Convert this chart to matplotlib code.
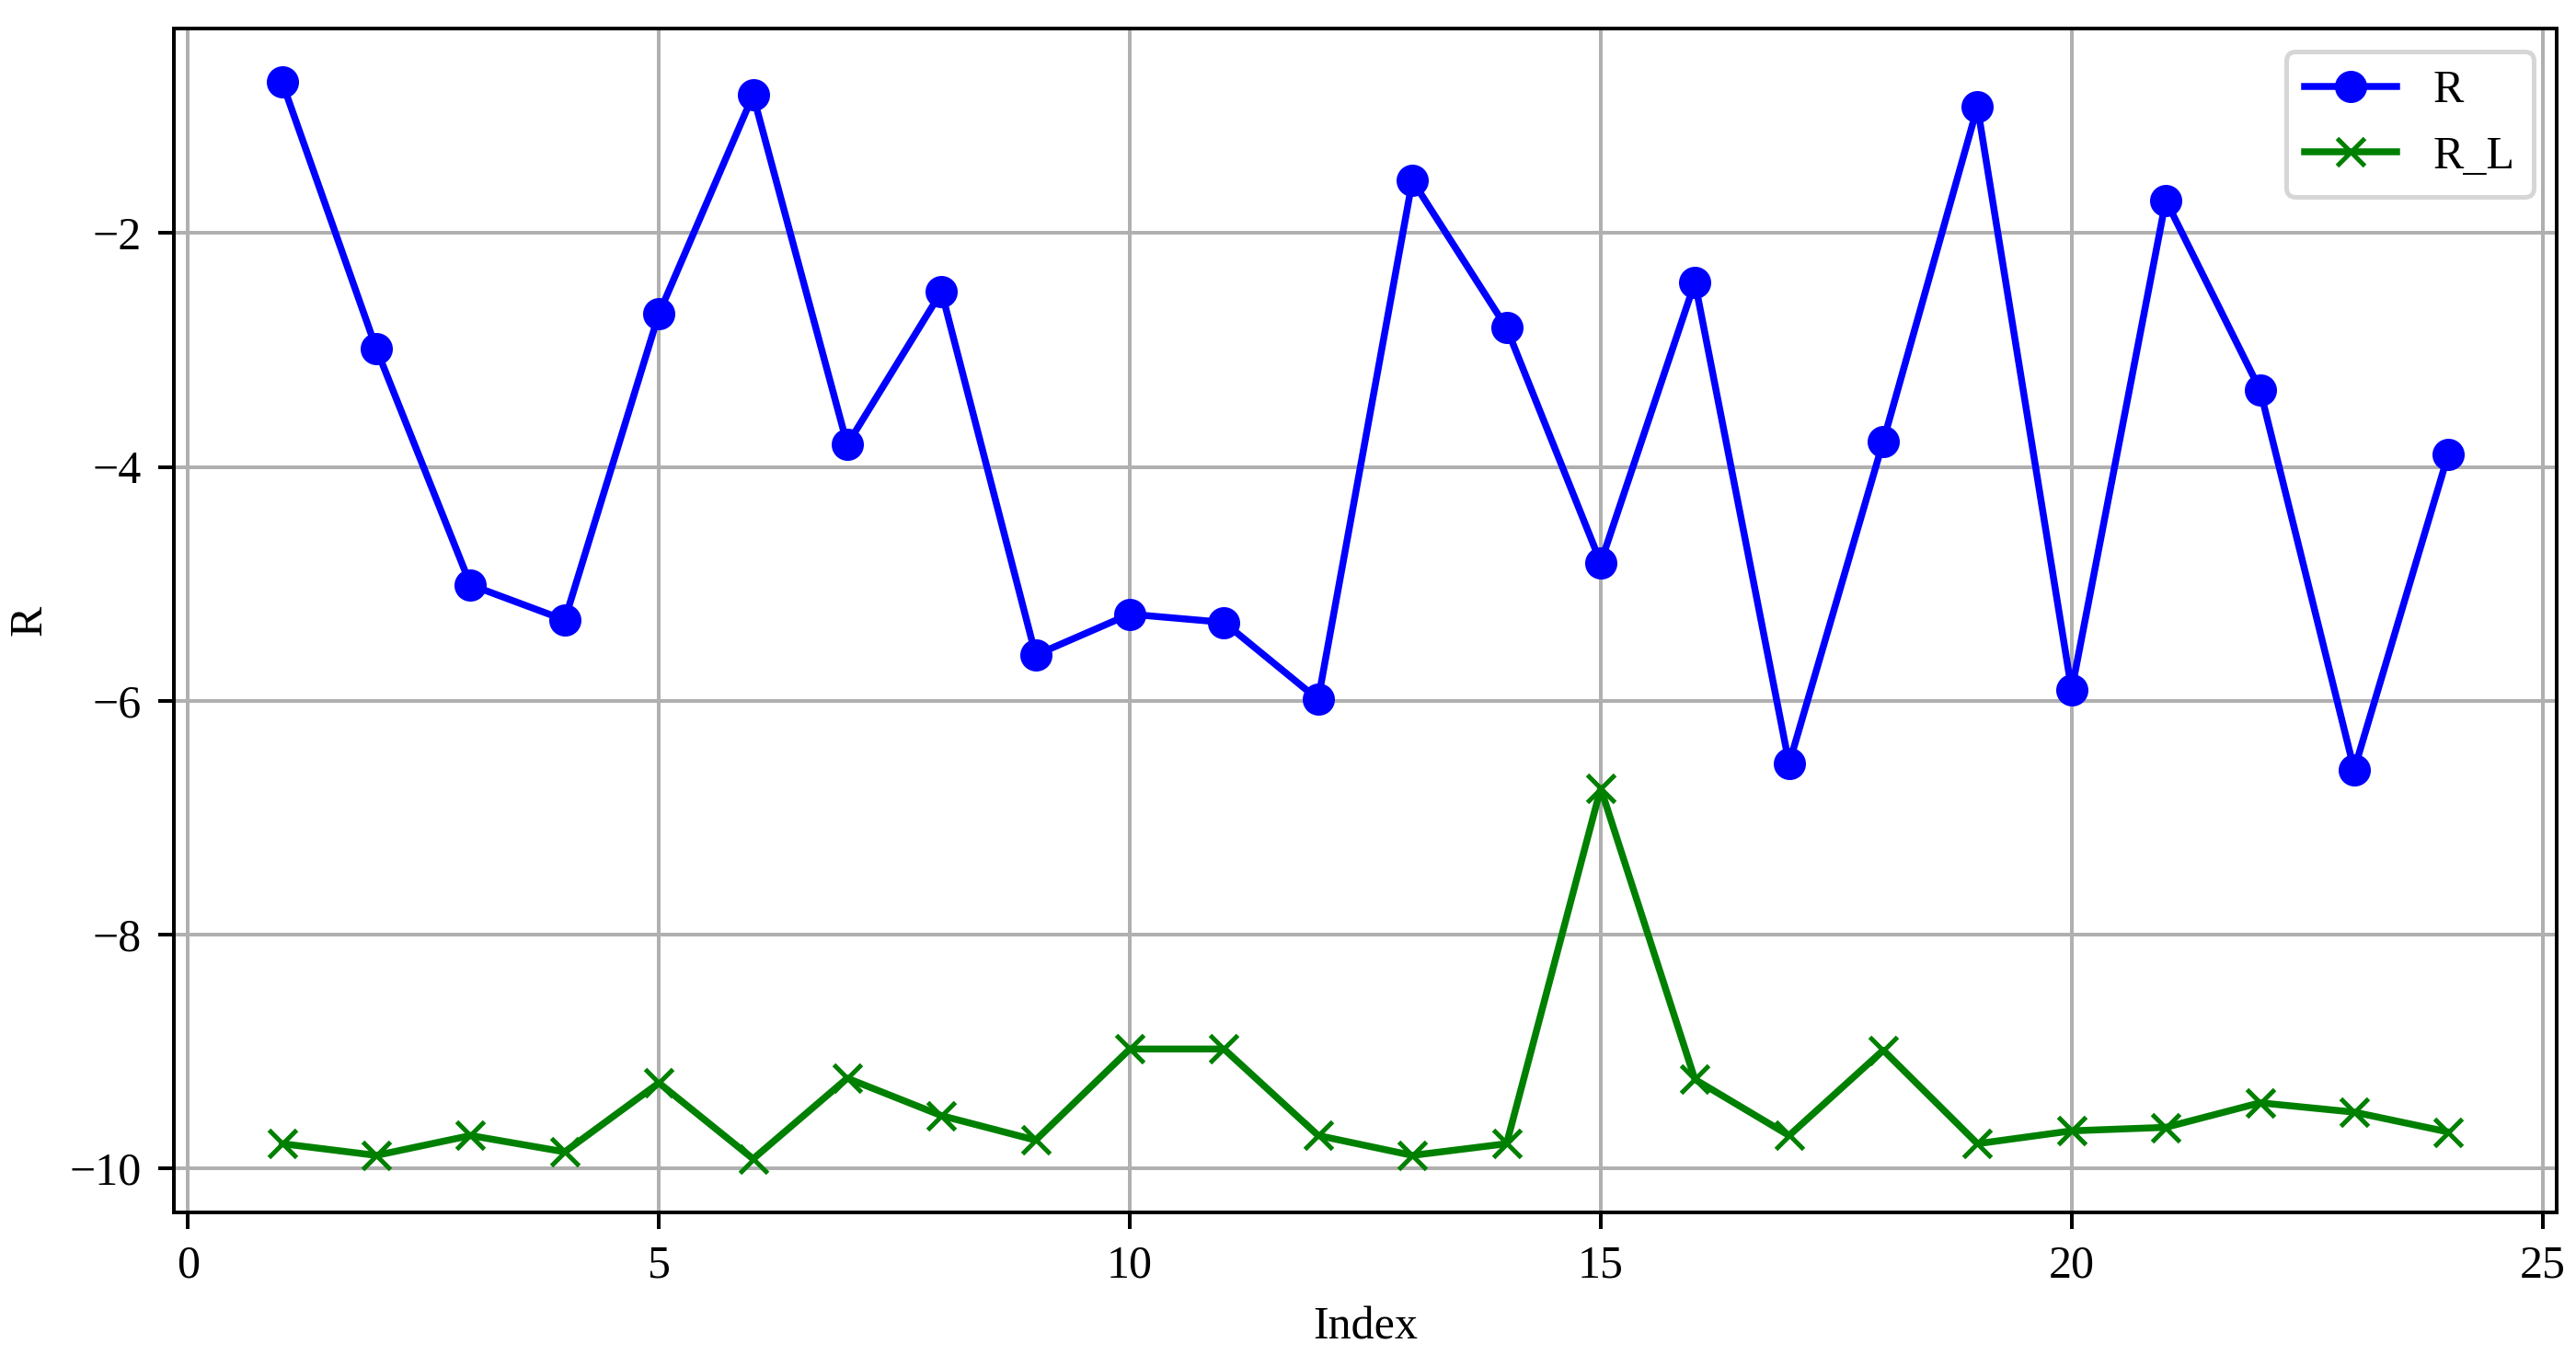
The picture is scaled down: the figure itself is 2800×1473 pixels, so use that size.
"""
Line chart of R and R_L against index.
"""

import matplotlib
matplotlib.use("Agg")
import matplotlib.pyplot as plt

# data
index = list(range(1, 25))
r = [-0.71, -2.99, -5.01, -5.31, -2.69, -0.82, -3.81, -2.50,
     -5.61, -5.26, -5.33, -5.99, -1.55, -2.81, -4.82, -2.42,
     -6.54, -3.78, -0.92, -5.91, -1.72, -3.34, -6.59, -3.89]
r_l = [-9.79, -9.89, -9.72, -9.86, -9.27, -9.92, -9.23, -9.55,
       -9.76, -8.98, -8.98, -9.72, -9.89, -9.79, -6.75, -9.24,
       -9.72, -8.99, -9.79, -9.68, -9.65, -9.44, -9.52, -9.69]

plt.rcParams["font.family"] = ["Liberation Serif", "DejaVu Serif"]

fig, ax = plt.subplots(figsize=(2800 / 360, 1473 / 360), dpi=360)

ax.plot(index, r, "o-", color="blue", label="R")
ax.plot(index, r_l, "x-", color="green", label="R_L")

ax.set_xlabel("Index")
ax.set_ylabel("R")
ax.grid(True)
ax.legend(loc="upper right")

fig.subplots_adjust(left=0.0675, right=0.9925, top=0.979, bottom=0.105)
fig.savefig("out.png", dpi=360)
